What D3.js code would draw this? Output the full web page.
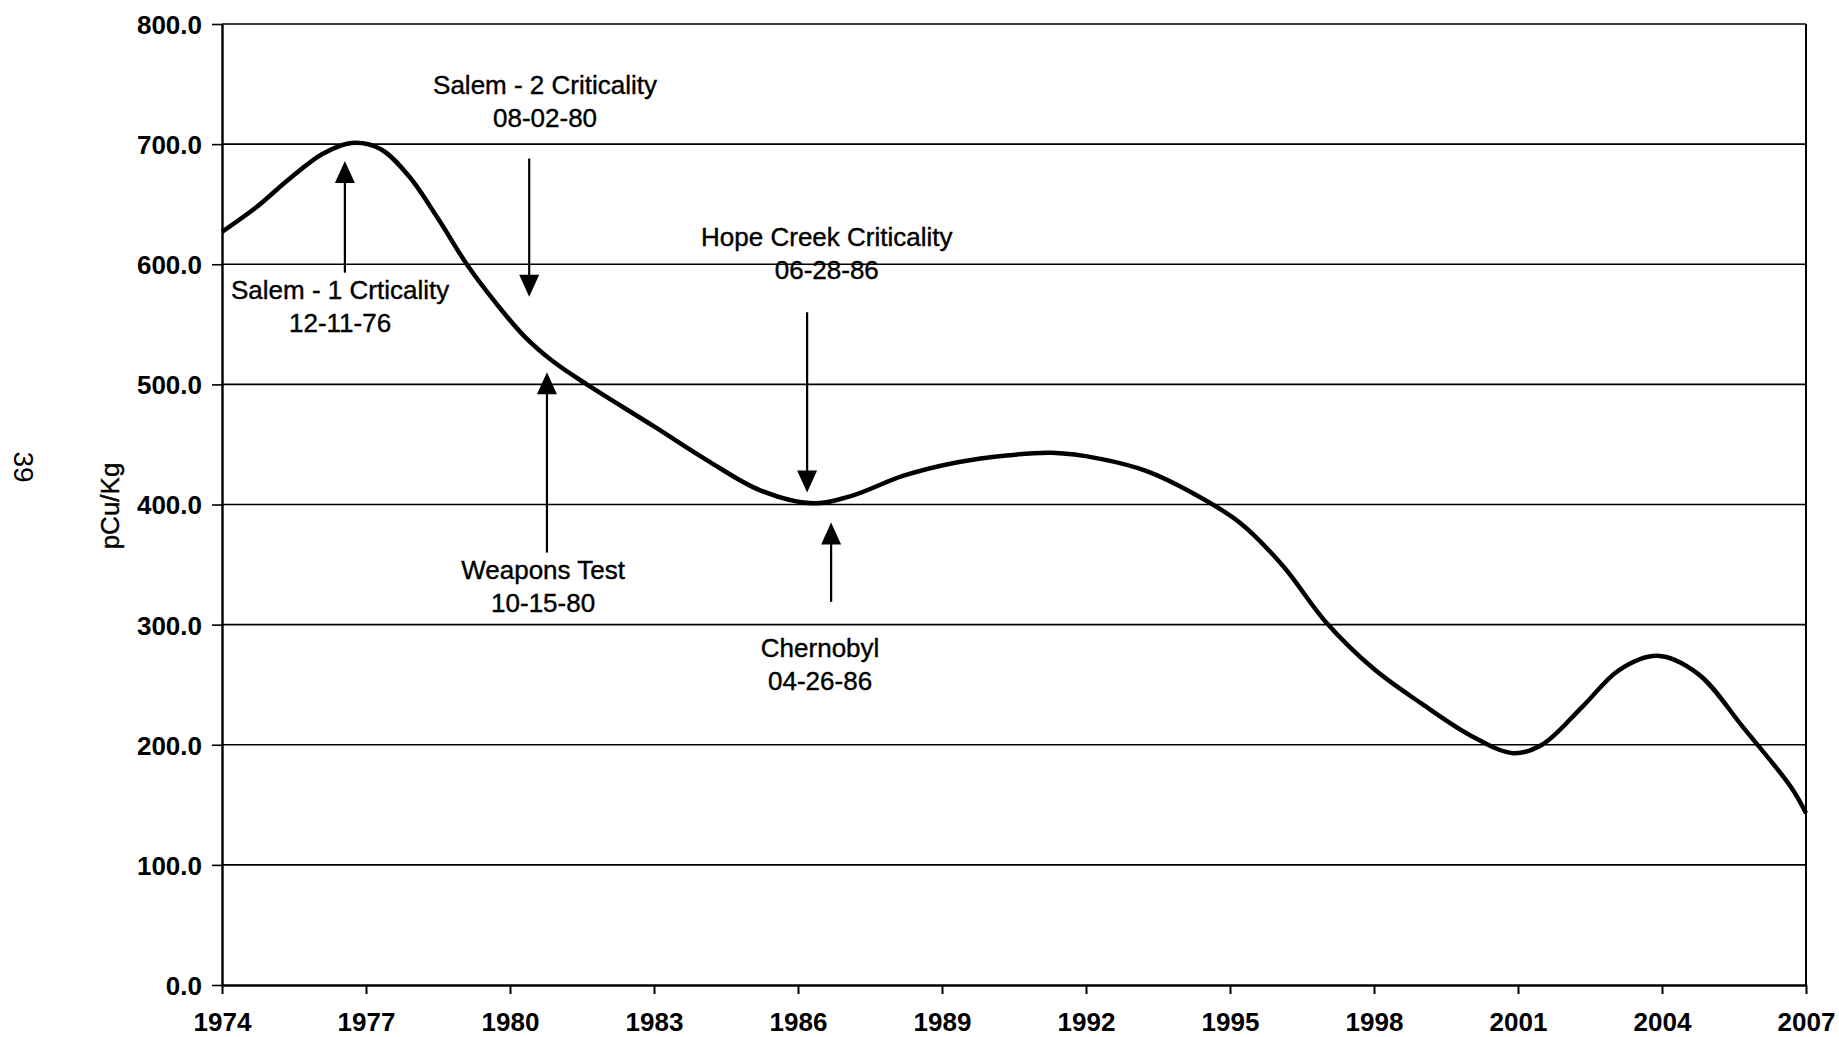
<!DOCTYPE html>
<html lang="en">
<head>
    <meta charset="UTF-8">
    <script src="https://d3js.org/d3.v7.min.js"></script>
    <style>
        body { margin: 0; background: #fff; }
        text { font-family: "Liberation Sans", Arial, sans-serif; fill: #000; }
    </style>
    <title>pCu/Kg 1974 - 2007</title>
</head>
<body>
    <div id="chart"></div>
    <script>
        // values (year, pCu/Kg)
        const years  = [1974.0, 1974.7, 1975.4, 1976.1, 1976.7, 1977.3, 1977.9, 1978.5, 1979.1, 1979.7,
                        1980.3, 1980.9, 1981.6, 1983.0, 1984.1, 1985.2, 1986.3, 1987.1, 1988.2, 1989.3,
                        1990.4, 1991.3, 1992.3, 1993.25, 1994.2, 1995.2, 1996.1, 1997.0, 1998.0,
                        1999.0, 2000.0, 2000.9, 2001.5, 2002.35, 2003.1, 2003.9, 2004.75, 2005.7, 2006.7, 2007.0];
        const values = [627, 647, 671, 692, 701, 696, 673, 638, 600, 568,
                        540, 519, 500, 465, 437, 412, 401, 407, 424, 435,
                        441, 443, 438, 428, 410, 385, 349, 302, 263,
                        234, 208, 193, 200, 232, 262, 274, 259, 214, 164, 143];

        const xTicks = [1974, 1977, 1980, 1983, 1986, 1989, 1992, 1995, 1998, 2001, 2004, 2007];
        const yTicks = [0, 100, 200, 300, 400, 500, 600, 700, 800];
        const yTitle = "pCu/Kg";
        const pageNo = "39";

        // events: arrow from (year, tail) to (year, tip), label anchored at (labelYear, labelValue)
        const eventNames  = ["Salem - 1 Crticality", "Salem - 2 Criticality", "Weapons Test", "Hope Creek Criticality", "Chernobyl"];
        const eventDates  = ["12-11-76", "08-02-80", "10-15-80", "06-28-86", "04-26-86"];
        const arrowYear   = [1976.56, 1980.40, 1980.77, 1986.19, 1986.69];
        const arrowTail   = [593, 688, 360, 560, 319];
        const arrowTip    = [686, 573, 510, 410, 385];
        const labelYear   = [1976.46, 1980.73, 1980.69, 1986.60, 1986.46];
        const labelValue  = [571, 742, 338, 615, 273];

        const W = 1839, H = 1037;
        const m = { left: 222, right: 1806, top: 24, bottom: 985 };

        const svg = d3.select("#chart")
                      .append("svg")
                      .attr("width", W)
                      .attr("height", H);

        const x = d3.scaleLinear().domain([1974, 2007]).range([m.left, m.right]);
        const y = d3.scaleLinear().domain([0, 800]).range([m.bottom, m.top]);

        // gridlines
        svg.append("g")
           .selectAll("line")
           .data(yTicks.filter(d => d > 0))
           .enter()
           .append("line")
           .attr("x1", m.left)
           .attr("x2", m.right)
           .attr("y1", d => y(d))
           .attr("y2", d => y(d))
           .attr("stroke", "#000")
           .attr("stroke-width", 1.6);

        // right border
        svg.append("line")
           .attr("x1", m.right).attr("x2", m.right)
           .attr("y1", m.top).attr("y2", m.bottom)
           .attr("stroke", "#000")
           .attr("stroke-width", 2);

        // axes
        const xAxis = d3.axisBottom(x).tickValues(xTicks).tickFormat(d3.format("d")).tickSize(9).tickSizeOuter(0);
        const yAxis = d3.axisLeft(y).tickValues(yTicks).tickFormat(d3.format(".1f")).tickSize(10).tickSizeOuter(0);

        const gx = svg.append("g")
           .attr("transform", "translate(0," + m.bottom + ")")
           .call(xAxis);
        gx.select(".domain").attr("stroke-width", 2.4);
        gx.selectAll(".tick line").attr("stroke-width", 2);
        gx.selectAll(".tick text")
          .attr("y", 46)
          .attr("dy", 0)
          .style("font-size", "26px")
          .style("font-weight", "bold")
          .style("font-family", "'Liberation Sans', Arial, sans-serif");

        const gy = svg.append("g")
           .attr("transform", "translate(" + m.left + ",0)")
           .call(yAxis);
        gy.select(".domain").attr("stroke-width", 2.4);
        gy.selectAll(".tick line").attr("stroke-width", 1.6);
        gy.selectAll(".tick text")
          .attr("x", -20)
          .attr("dy", "0.36em")
          .style("font-size", "26px")
          .style("font-weight", "bold")
          .style("font-family", "'Liberation Sans', Arial, sans-serif");

        // curve
        const pts = years.map((d, i) => [d, values[i]]);
        const line = d3.line()
                       .x(d => x(d[0]))
                       .y(d => y(d[1]))
                       .curve(d3.curveCatmullRom.alpha(0.5));
        svg.append("path")
           .datum(pts)
           .attr("d", line)
           .attr("fill", "none")
           .attr("stroke", "#000")
           .attr("stroke-width", 4.5)
           .attr("stroke-linejoin", "round");

        // arrows
        const ev = eventNames.map((n, i) => ({
            name: n, date: eventDates[i], ax: arrowYear[i], tail: arrowTail[i], tip: arrowTip[i],
            lx: labelYear[i], lv: labelValue[i]
        }));

        const arrows = svg.append("g").selectAll("g").data(ev).enter().append("g");
        arrows.append("line")
              .attr("x1", d => x(d.ax)).attr("x2", d => x(d.ax))
              .attr("y1", d => y(d.tail))
              .attr("y2", d => y(d.tip) + (d.tip > d.tail ? 18 : -18))
              .attr("stroke", "#000")
              .attr("stroke-width", 2.2);
        arrows.append("path")
              .attr("d", d => {
                  const tx = x(d.ax), ty = y(d.tip);
                  const s = d.tip > d.tail ? 1 : -1;   // up arrow: base is below tip
                  return "M" + tx + "," + ty + "L" + (tx - 10) + "," + (ty + s * 22) + "L" + (tx + 10) + "," + (ty + s * 22) + "Z";
              })
              .attr("fill", "#000");

        const labels = svg.append("g").selectAll("text").data(ev).enter().append("text")
              .attr("x", d => x(d.lx))
              .attr("y", d => y(d.lv))
              .attr("text-anchor", "middle")
              .style("font-size", "26px")
              .attr("stroke", "#000")
              .attr("stroke-width", 0.4);
        labels.append("tspan").attr("x", d => x(d.lx)).text(d => d.name);
        labels.append("tspan").attr("x", d => x(d.lx)).attr("dy", 33).text(d => d.date);

        // axis title
        svg.append("text")
           .attr("transform", "translate(119,506) rotate(-90)")
           .attr("text-anchor", "middle")
           .style("font-size", "26px")
           .attr("stroke", "#000")
           .attr("stroke-width", 0.4)
           .text(yTitle);

        // page number
        svg.append("text")
           .attr("transform", "translate(14,467) rotate(90)")
           .attr("text-anchor", "middle")
           .style("font-size", "28px")
           .text(pageNo);
    </script>
</body>
</html>
